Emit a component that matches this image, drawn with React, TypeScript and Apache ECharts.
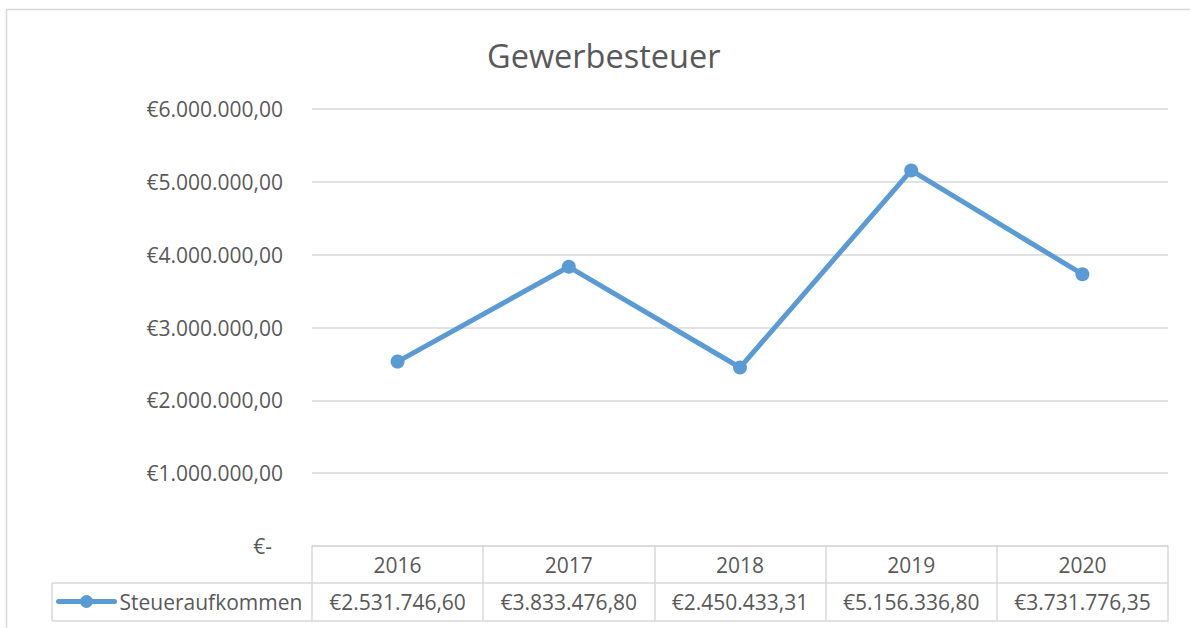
import React, { useEffect, useRef } from "react";
import * as echarts from "echarts";

const title = "Gewerbesteuer";
const seriesName = "Steueraufkommen";
const years = ["2016", "2017", "2018", "2019", "2020"];
const values = [2531746.6, 3833476.8, 2450433.31, 5156336.8, 3731776.35];
const yMax = 6000000;
const yStep = 1000000;

const fmt = (v: number): string => {
  const [i, d] = v.toFixed(2).split(".");
  return "€" + i.replace(/\B(?=(\d{3})+(?!\d))/g, ".") + "," + d;
};

const FONT = "'Open Sans', 'Noto Sans', sans-serif";
const TXT = "#595959";
const GRID = "#d9d9d9";
const BLUE = "#5b9bd5";

export default function App() {
  const ref = useRef<HTMLDivElement>(null);
  useEffect(() => {
    if (!ref.current) return;
    const chart = echarts.init(ref.current, undefined, { renderer: "svg" });
    const H = 628;
    const gL = 312, gR = 22, gT = 109, gB = 82;
    const axisY = H - gB;
    const row1 = axisY + 37;
    const row2 = axisY + 75;
    const tableLeft = 52;
    chart.setOption({
      animation: false,
      backgroundColor: "#ffffff",
      title: {
        text: title,
        left: 482,
        top: 34,
        textStyle: { fontFamily: FONT, fontSize: 32.5, fontWeight: "normal", color: TXT },
      },
      legend: {
        left: 56,
        top: 591,
        padding: 0,
        itemWidth: 56,
        itemHeight: 16,
        data: [seriesName],
        lineStyle: { width: 5, color: BLUE },
        itemStyle: { color: BLUE },
        textStyle: { fontFamily: FONT, fontSize: 21, color: TXT },
      },
      grid: { left: gL, right: gR, top: gT, bottom: gB, containLabel: false },
      xAxis: [
        {
          type: "category",
          data: years,
          position: "bottom",
          boundaryGap: true,
          axisLine: { show: true, lineStyle: { color: GRID, width: 1.5 } },
          axisTick: { show: true, interval: 0, length: 75, lineStyle: { color: GRID, width: 1.5 } },
          axisLabel: { interval: 0, margin: 8, fontFamily: FONT, fontSize: 21, color: TXT },
        },
        {
          type: "category",
          data: values.map(fmt),
          position: "bottom",
          offset: 37,
          boundaryGap: true,
          axisLine: { show: true, lineStyle: { color: GRID, width: 1.5 } },
          axisTick: { show: false },
          axisLabel: { interval: 0, margin: 8, fontFamily: FONT, fontSize: 21, color: TXT },
        },
        {
          type: "category",
          data: years,
          position: "bottom",
          offset: 75,
          boundaryGap: true,
          axisLine: { show: true, lineStyle: { color: GRID, width: 1.5 } },
          axisTick: { show: false },
          axisLabel: { show: false },
        },
      ],
      yAxis: {
        type: "value",
        min: 0,
        max: yMax,
        interval: yStep,
        axisLine: { show: false },
        axisTick: { show: false },
        splitLine: { lineStyle: { color: GRID, width: 1.5 } },
        axisLabel: {
          margin: 29,
          fontFamily: FONT,
          fontSize: 21,
          color: TXT,
          formatter: (v: number) => (v === 0 ? "{z|€-}" : fmt(v)),
          rich: { z: { fontFamily: FONT, fontSize: 21, color: TXT, padding: [0, 11, 0, 0] } },
        },
      },
      series: [
        {
          name: seriesName,
          type: "line",
          xAxisIndex: 0,
          data: values,
          symbol: "circle",
          symbolSize: 14,
          lineStyle: { color: BLUE, width: 5, cap: "round", join: "round" },
          itemStyle: { color: BLUE },
        },
      ],
      graphic: [
        {
          type: "rect",
          shape: { x: 6.5, y: 9.5, width: 1300, height: 800 },
          style: { fill: "none", stroke: GRID, lineWidth: 1.5 },
          silent: true,
        },
        {
          type: "line",
          shape: { x1: tableLeft, y1: row1, x2: gL, y2: row1 },
          style: { stroke: GRID, lineWidth: 1.5 },
        },
        {
          type: "line",
          shape: { x1: tableLeft, y1: row2, x2: gL, y2: row2 },
          style: { stroke: GRID, lineWidth: 1.5 },
        },
        {
          type: "line",
          shape: { x1: tableLeft, y1: row1, x2: tableLeft, y2: row2 },
          style: { stroke: GRID, lineWidth: 1.5 },
        },
      ],
    });
    return () => chart.dispose();
  }, []);
  return (
    <div
      ref={ref}
      style={{ position: "absolute", left: 0, top: 0, width: 1190, height: 628 }}
    />
  );
}
